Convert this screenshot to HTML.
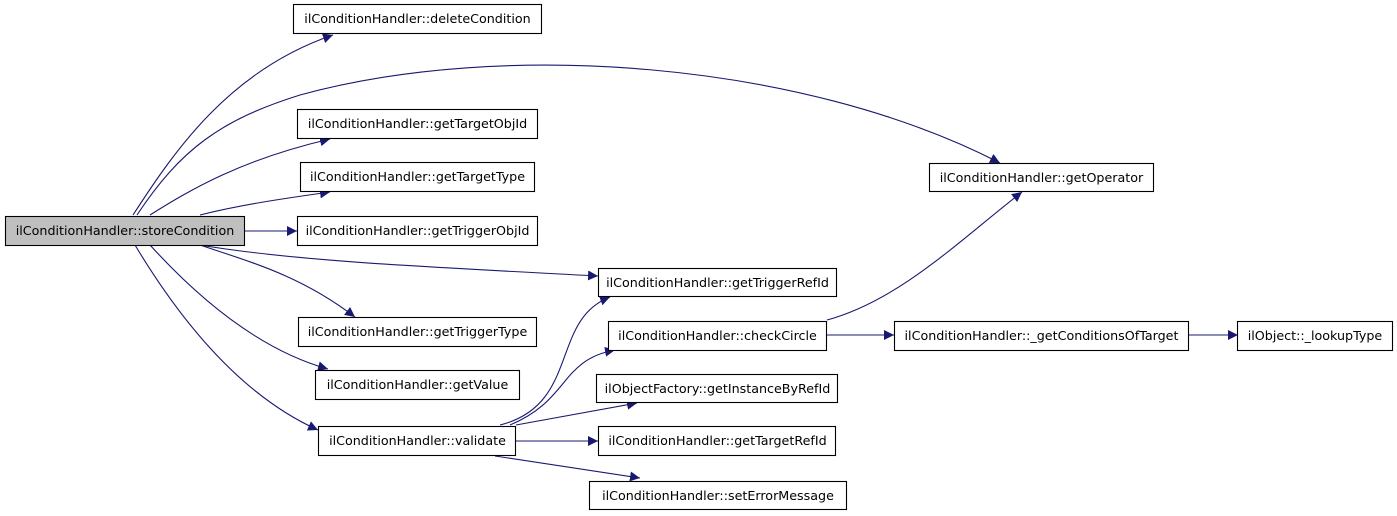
<!DOCTYPE html>
<html><head><meta charset="utf-8"><style>
html,body{margin:0;padding:0;background:#fff;}
svg{display:block;}
text{font-family:"DejaVu Sans","Liberation Sans",sans-serif;font-size:12.7px;fill:#000;}
</style></head><body>
<svg width="1397" height="516" viewBox="0 0 1397 516" xmlns="http://www.w3.org/2000/svg">
<defs>
<marker id="a" viewBox="0 0 10 10" refX="10" refY="5" markerWidth="10" markerHeight="10" markerUnits="userSpaceOnUse" orient="auto">
<path d="M0,0 L10,5 L0,10 z" fill="#191970"/>
</marker>
</defs>
<g fill="none" stroke="#191970" stroke-width="1.1" marker-end="url(#a)">
<path d="M133,215 C175,150 230,70 333,35"/>
<path d="M137,215 C180,150 220,120 300,95 C500,40 800,60 1000,163"/>
<path d="M150,215 C190,190 240,160 330,139"/>
<path d="M200,215 C240,205 280,199 330,192"/>
<path d="M244,231 L297,231"/>
<path d="M200,245 C300,262 450,268 598,276"/>
<path d="M200,245 C250,262 300,275 355,317"/>
<path d="M150,245 C200,300 260,350 328,369"/>
<path d="M135,245 C180,320 240,395 318,430"/>
<path d="M500,425 C580,405 550,320 610,297"/>
<path d="M510,425 C570,400 560,360 615,350"/>
<path d="M516,425 L637,403"/>
<path d="M516,441 L598,441"/>
<path d="M495,456 L640,478"/>
<path d="M827,320 C900,300 960,240 1022,192"/>
<path d="M827,335 L894,335"/>
<path d="M1189,335 L1238,335"/>
</g>
<g stroke="#000" stroke-width="1.1">
<rect x="5.5" y="216.5" width="239" height="29" fill="#bfbfbf"/>
<rect x="293.5" y="4.5" width="248" height="29" fill="#fff"/>
<rect x="297.5" y="109.5" width="240" height="29" fill="#fff"/>
<rect x="300.5" y="162.5" width="234" height="29" fill="#fff"/>
<rect x="297.5" y="216.5" width="240" height="29" fill="#fff"/>
<rect x="298.5" y="317.5" width="238" height="29" fill="#fff"/>
<rect x="315.5" y="370.5" width="204" height="29" fill="#fff"/>
<rect x="318.5" y="426.5" width="197" height="29" fill="#fff"/>
<rect x="929.5" y="163.5" width="224" height="28" fill="#fff"/>
<rect x="598.5" y="268.5" width="238" height="28" fill="#fff"/>
<rect x="608.5" y="321.5" width="218" height="29" fill="#fff"/>
<rect x="596.5" y="374.5" width="241" height="28" fill="#fff"/>
<rect x="598.5" y="426.5" width="237" height="29" fill="#fff"/>
<rect x="589.5" y="481.5" width="257" height="28" fill="#fff"/>
<rect x="894.5" y="321.5" width="294" height="29" fill="#fff"/>
<rect x="1237.5" y="321.5" width="155" height="29" fill="#fff"/>
</g>
<g text-anchor="middle">
<text x="125" y="235">ilConditionHandler::storeCondition</text>
<text x="417.5" y="23">ilConditionHandler::deleteCondition</text>
<text x="417.5" y="128">ilConditionHandler::getTargetObjId</text>
<text x="417.5" y="181">ilConditionHandler::getTargetType</text>
<text x="417.5" y="235">ilConditionHandler::getTriggerObjId</text>
<text x="417.5" y="336">ilConditionHandler::getTriggerType</text>
<text x="417.5" y="389">ilConditionHandler::getValue</text>
<text x="417.5" y="445">ilConditionHandler::validate</text>
<text x="1041.5" y="182">ilConditionHandler::getOperator</text>
<text x="717.5" y="287">ilConditionHandler::getTriggerRefId</text>
<text x="717.5" y="340">ilConditionHandler::checkCircle</text>
<text x="717.5" y="393">ilObjectFactory::getInstanceByRefId</text>
<text x="717.5" y="445">ilConditionHandler::getTargetRefId</text>
<text x="718" y="500">ilConditionHandler::setErrorMessage</text>
<text x="1041.5" y="340">ilConditionHandler::_getConditionsOfTarget</text>
<text x="1315" y="340">ilObject::_lookupType</text>
</g>
</svg>
</body></html>
